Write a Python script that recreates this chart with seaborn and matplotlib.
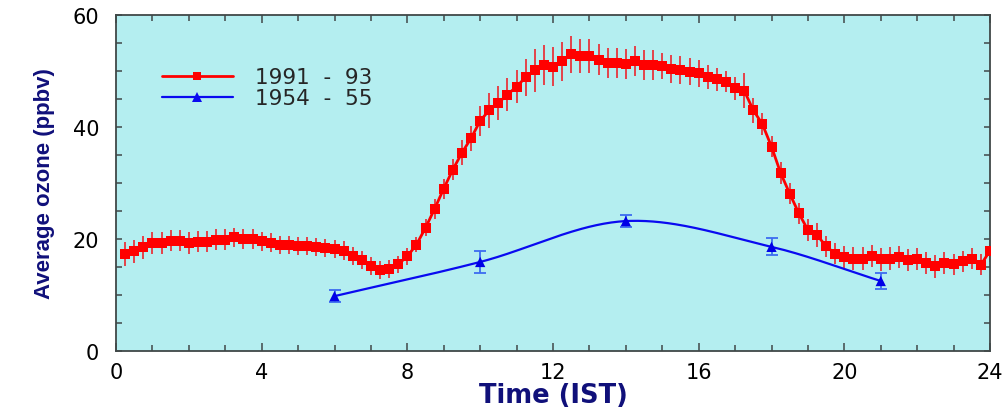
import numpy as np
import pandas as pd
import matplotlib
matplotlib.use("Agg")
import matplotlib.pyplot as plt
import seaborn as sns
from matplotlib.lines import Line2D
from matplotlib.ticker import MultipleLocator

# ---------------- data ----------------
hours_recent = np.arange(1, 97) * 0.25          # 00:15 ... 24:00, every 15 min
ozone_recent = [
    17.3, 17.8, 18.5, 19.3, 19.3, 19.7, 19.7, 19.3, 19.5, 19.5, 19.9, 19.9, 20.3, 20.0, 20.0, 19.6,
    19.3, 19.0, 19.0, 18.7, 18.7, 18.5, 18.4, 18.2, 17.9, 17.0, 16.25, 15.1, 14.5,
    14.7, 15.5, 16.9,
    19.0, 22.0, 25.4, 29.0, 32.4, 35.4, 38.0, 41.1, 43.0, 44.3, 45.8, 47.2, 48.9, 50.1, 51.1, 50.8,
    51.7, 53.0, 52.7, 52.7, 52.0, 51.4, 51.4, 51.3, 51.8, 51.1, 51.1, 50.9, 50.4, 50.1, 49.9, 49.6,
    48.9, 48.5, 48.1, 46.9, 46.5, 43.0, 40.5, 36.5, 31.8, 28.1, 24.6, 21.6, 20.7, 18.7, 17.35, 16.7,
    16.5, 16.5, 17.0, 16.35, 16.5, 16.8, 16.3, 16.4, 15.75, 15.1, 15.7, 15.45, 16.0, 16.5, 15.4, 17.9,
]
err_recent = [
    2.1, 2.0, 2.0, 2.0, 2.0, 1.9, 1.9, 1.9, 1.9, 1.9, 1.8, 1.8, 1.7, 1.7, 1.7, 1.7,
    1.7, 1.6, 1.6, 1.6, 1.6, 1.6, 1.6, 1.6, 1.7, 1.6, 1.6, 1.6, 1.6,
    1.6, 1.5, 1.5,
    1.3, 1.5, 1.8, 1.8, 1.9, 2.2, 2.2, 2.7, 3.1, 3.1, 3.0, 3.0, 3.3, 3.8, 3.6, 3.5,
    3.5, 3.3, 3.0, 3.0, 2.8, 2.7, 2.7, 2.7, 2.7, 2.7, 2.7, 2.3, 2.5, 2.5, 2.4, 2.4,
    2.2, 2.1, 1.9, 2.1, 3.1, 2.2, 2.0, 1.9, 1.9, 1.9, 1.9, 1.9, 2.2, 1.9, 1.9, 2.0,
    2.0, 2.0, 2.0, 2.1, 2.0, 2.0, 2.0, 2.0, 2.0, 2.1, 2.0, 1.9, 1.9, 1.9, 1.9, 2.0,
]
hours_old = [6, 10, 14, 18, 21]
ozone_old = [9.8, 15.9, 23.2, 18.6, 12.5]
err_old = [1.1, 2.0, 1.1, 1.5, 1.4]

labels = ["1991  -  93", "1954  -  55"]
xticks = [0, 4, 8, 12, 16, 20, 24]
yticks = [0, 20, 40, 60]

recent = pd.DataFrame({"hour": hours_recent, "ozone": ozone_recent, "err": err_recent})
old = pd.DataFrame({"hour": hours_old, "ozone": ozone_old, "err": err_old})


def smooth_curve(x, y, n=60):
    """Cubic Hermite curve through the points (finite-difference tangents)."""
    x = np.asarray(x, float)
    y = np.asarray(y, float)
    k = len(x)
    m = np.empty(k)
    m[0] = (y[1] - y[0]) / (x[1] - x[0])
    m[-1] = (y[-1] - y[-2]) / (x[-1] - x[-2])
    for i in range(1, k - 1):
        m[i] = (y[i + 1] - y[i - 1]) / (x[i + 1] - x[i - 1])
    xs_all, ys_all = [], []
    for i in range(k - 1):
        h = x[i + 1] - x[i]
        t = np.linspace(0, 1, n)
        h00 = 2 * t**3 - 3 * t**2 + 1
        h10 = t**3 - 2 * t**2 + t
        h01 = -2 * t**3 + 3 * t**2
        h11 = t**3 - t**2
        xs_all.append(x[i] + t * h)
        ys_all.append(h00 * y[i] + h10 * h * m[i] + h01 * y[i + 1] + h11 * h * m[i + 1])
    return np.concatenate(xs_all), np.concatenate(ys_all)


# ---------------- style ----------------
sns.set_theme(style="ticks")
plt.rcParams["font.family"] = ["DejaVu Sans"]

RED = "#FF0000"
RED_ERR = "#E8343C"
BLUE = "#0A0AF0"
BLUE_ERR = "#3C6CF0"
NAVY = "#10107A"
FRAME = "#404848"

fig = plt.figure(figsize=(10.07, 4.10), dpi=100)
ax = fig.add_axes([116 / 1007, 1 - 352 / 410, (990 - 116) / 1007, (352 - 16) / 410])
ax.set_facecolor("#B4EEF0")

# red series
ax.errorbar(recent["hour"], recent["ozone"], yerr=recent["err"], fmt="none",
            ecolor=RED_ERR, elinewidth=1.3, capsize=0, zorder=2)
sns.lineplot(data=recent, x="hour", y="ozone", ax=ax, color=RED, lw=2.0,
             marker="s", markersize=7, markeredgewidth=0, zorder=3)

# blue series
xs, ys = smooth_curve(old["hour"], old["ozone"])
ax.errorbar(old["hour"], old["ozone"], yerr=old["err"], fmt="none",
            ecolor=BLUE_ERR, elinewidth=1.3, capsize=4, capthick=1.3, zorder=2)
ax.plot(xs, ys, color=BLUE, lw=1.6, zorder=3)
sns.scatterplot(data=old, x="hour", y="ozone", ax=ax, marker="^", s=55,
                color="#0000E6", edgecolor="none", zorder=4)

ax.set_xlim(0, 24)
ax.set_ylim(0, 60)
ax.set_xticks(xticks)
ax.set_yticks(yticks)
ax.xaxis.set_minor_locator(MultipleLocator(1))
ax.yaxis.set_minor_locator(MultipleLocator(5))
ax.tick_params(which="both", direction="in", top=True, right=True, color=FRAME,
               width=1.1, labelsize=15, labelcolor="black")
ax.tick_params(axis="x", which="major", length=6, pad=8)
ax.tick_params(axis="x", which="minor", length=4)
ax.tick_params(axis="y", which="both", length=4.5, pad=12)
for sp in ax.spines.values():
    sp.set_color(FRAME)
    sp.set_linewidth(1.3)

ax.set_xlabel("Time (IST)", fontsize=18.5, fontweight="bold", color=NAVY, labelpad=0)
ax.set_ylabel("Average ozone (ppbv)", fontsize=16, fontweight="bold", color=NAVY,
              family=["Liberation Sans", "DejaVu Sans"], labelpad=13)

handles = [
    Line2D([], [], color=RED, lw=2.0, marker="s", markersize=6, markeredgewidth=0),
    Line2D([], [], color=BLUE, lw=1.6, marker="^", markersize=7, markeredgewidth=0),
]
ax.legend(handles, labels, loc="upper left", bbox_to_anchor=(0.0526, 0.845),
          frameon=False, fontsize=15.5, handlelength=3.3, handletextpad=1.0,
          labelspacing=0.05, borderpad=0, borderaxespad=0)

fig.savefig("out.png", dpi=100, facecolor="white")
